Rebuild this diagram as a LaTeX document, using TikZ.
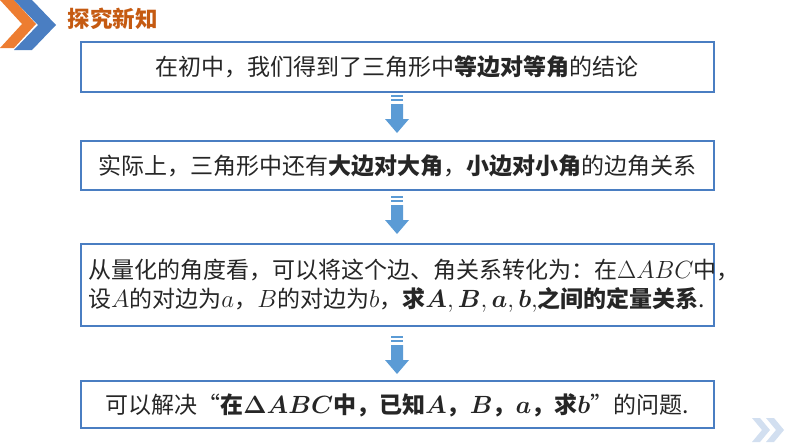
\documentclass[tikz,border=0pt]{standalone}
\usepackage{amsmath,bm}
\usepackage{fontspec}
\setmainfont{Noto Sans CJK SC}
\usetikzlibrary{calc}
\definecolor{bb}{HTML}{4A7EC2}
\definecolor{ab}{HTML}{5B9BD5}
\definecolor{og}{HTML}{ED7D31}
\definecolor{tt}{HTML}{C55A11}
\tikzset{box/.style={draw=bb,line width=2pt,fill=white},
 txt/.style={font=\fontsize{23}{27}\selectfont,text=black!85,inner sep=0}}
\newcommand\downarr[1]{%
 \begin{scope}[shift={(397,#1)}]
 \fill[ab] (-6,0) rectangle (6,2);
 \fill[ab] (-6,4) rectangle (6,6);
 \fill[ab] (-6,9) -- (6,9) -- (6,24) -- (12,24) -- (0,38) -- (-12,24) -- (-6,24) -- cycle;
 \end{scope}}
\begin{document}
\begin{tikzpicture}[x=1pt,y=-1pt]
\useasboundingbox (0,0) rectangle (794,447);
\fill[og] (0,0) -- (14,0) -- (36,24) -- (14,48) -- (0,48) -- (22,24) -- cycle;
\fill[bb] (14,0) -- (32,0) -- (56,25) -- (32,50) -- (14,50) -- (38,25) -- cycle;
\node[anchor=west,text=tt,font=\fontsize{22.5}{26}\selectfont\bfseries] (title) at (64,19) {探究新知};
\fill[bb!25] (752,418) -- (760,418) -- (770,430) -- (760,442) -- (752,442) -- (762,430) -- cycle;
\fill[bb!25] (766,418) -- (774,418) -- (784,430) -- (774,442) -- (766,442) -- (776,430) -- cycle;
\draw[box] (81,42) rectangle (714,92);
\node[txt] (t1) at (397,67) {在初中，我们得到了三角形中\textbf{等边对等角}的结论};
\draw[box] (81,141) rectangle (714,190);
\node[txt] (t2) at (397,166) {实际上，三角形中还有\textbf{大边对大角}，\textbf{小边对小角}的边角关系};
\draw[box] (81,244) rectangle (714,326);
\node[txt,anchor=west] (t3) at (88,270) {从量化的角度看，可以将这个边、角关系转化为：在$\Delta ABC$中，};
\node[txt,anchor=west] (t3b) at (88,300) {设$A$的对边为$a$，$B$的对边为$b$，\textbf{求$\bm{A},\bm{B},\bm{a},\bm{b},$之间的定量关系}.};
\draw[box] (81,381) rectangle (714,428);
\node[txt] (t4) at (397,405) {可以解决“\textbf{在$\bm{\Delta ABC}$中，已知$\bm{A}$，$\bm{B}$，$\bm{a}$，求$\bm{b}$}”的问题.};
\downarr{95}
\downarr{196}
\downarr{336}
\end{tikzpicture}
\end{document}
